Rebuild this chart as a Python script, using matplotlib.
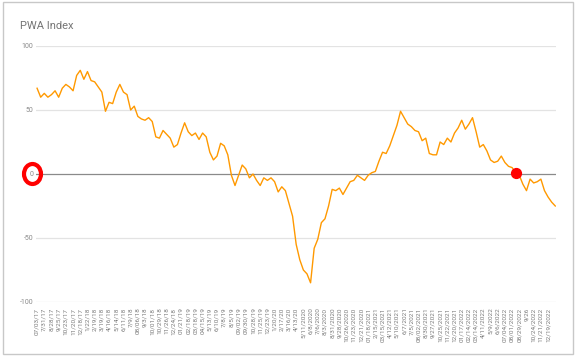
import matplotlib
matplotlib.use("Agg")
import matplotlib.pyplot as plt
from matplotlib.patches import Ellipse, Rectangle

plt.rcParams["font.family"] = ["Roboto", "DejaVu Sans"]

# weekly index readings (every second week)
pwa_index = [
    67, 60, 63, 60, 62, 65, 60, 67, 70, 68,
    65, 77, 81, 74, 80, 73, 72, 68, 64, 49,
    56, 55, 64, 70, 64, 62, 50, 53, 45, 43,
    42, 44, 41, 29, 28, 34, 31, 28, 21, 23,
    32, 40, 33, 30, 32, 27, 32, 29, 17, 11,
    14, 24, 22, 15, -1, -9, -1, 7, 4, -3,
    0, -5, -9, -3, -5, -3, -6, -14, -10, -13,
    -23, -33, -55, -67, -75, -78, -85, -58, -51, -38,
    -35, -25, -12, -13, -11, -16, -11, -6, -5, -1,
    -3, -5, -1, 1, 2, 10, 17, 16, 22, 30,
    38, 49, 44, 39, 37, 34, 33, 26, 28, 16,
    15, 15, 25, 23, 28, 25, 32, 36, 42, 35,
    39, 44, 33, 21, 23, 18, 11, 9, 10, 14,
    9, 6, 5, 1, -1, -8, -13, -4, -7, -6,
    -4, -13, -18, -22, -25,
]

date_labels = [
    "07/03/17", "7/31/17", "8/28/17", "9/25/17", "10/23/17", "11/20/17",
    "12/18/17", "1/22/18", "2/19/18", "3/19/18", "4/16/18", "5/14/18",
    "6/11/18", "7/9/18", "08/06/18", "9/3/18", "10/01/18", "10/29/18",
    "11/26/18", "12/24/18", "01/21/19", "02/18/19", "03/18/19", "04/15/19",
    "5/13/19", "6/10/19", "7/8/19", "8/5/19", "09/02/19", "09/30/19",
    "10/28/19", "11/25/19", "12/23/19", "1/20/20", "2/17/20", "3/16/20",
    "4/13/20", "5/11/2020", "6/8/2020", "7/6/2020", "8/3/2020", "8/31/2020",
    "9/28/2020", "10/26/2020", "11/23/2020", "12/21/2020", "01/18/2021",
    "2/15/2021", "03/15/2021", "4/12/2021", "5/10/2021", "6/7/2021",
    "7/5/2021", "08/02/2021", "8/30/2021", "9/27/2021", "10/25/2021",
    "11/22/2021", "12/20/2021", "01/17/2022", "02/14/2022", "03/14/2022",
    "4/11/2022", "5/9/2022", "6/6/2022", "07/04/2022", "08/01/2022",
    "08/29/2022", "9/26", "10/24/2022", "11/21/2022", "12/19/2022",
]
y_ticks = [-100, -50, 0, 50, 100]
marked_point = 133   # red marker drawn on the series

W, H = 575, 361
fig = plt.figure(figsize=(W / 100, H / 100), dpi=100)

# screenshot frame
fig.patches.append(Rectangle((3 / W, 1 - 354 / H), 570 / W, 352 / H,
                             transform=fig.transFigure, fill=False,
                             edgecolor="#c8c8c8", lw=1.0))

ax = fig.add_axes([36 / W, 59 / H, (556 - 36) / W, (315 - 59) / H])
x = list(range(len(pwa_index)))
ax.plot(x, pwa_index, color="#ff9900", lw=1.0, zorder=3)

ax.set_xlim(-0.3, 144.2)
ax.set_ylim(-100, 100)
for v in y_ticks:
    if v == 0:
        ax.axhline(v, color="#8a8a8a", lw=0.9, zorder=2)
    else:
        ax.axhline(v, color="#e3e3e3", lw=0.9, zorder=1)

ax.set_yticks(y_ticks)
ax.set_yticklabels([str(v) for v in y_ticks], fontsize=5, color="#8a8a8a")
ax.set_xticks(x[::2][:len(date_labels)])
ax.set_xticklabels(date_labels, rotation=90, fontsize=4.6, color="#7a7a7a")
ax.tick_params(length=0, pad=2)
ax.tick_params(axis="x", pad=4)
for s in ax.spines.values():
    s.set_visible(False)

# red highlight marks
ax.scatter([marked_point], [pwa_index[marked_point]], s=50, color="#ff0000",
           zorder=5)
fig.patches.append(Ellipse((32.5 / W, 1 - 174 / H), 17 / W, 20 / H,
                           transform=fig.transFigure, fill=False,
                           edgecolor="#ff0000", lw=3.0))

fig.text(20 / W, 1 - 29 / H, "PWA Index", fontsize=8, color="#757575",
         va="baseline", ha="left")

fig.savefig("out.png", dpi=100)
